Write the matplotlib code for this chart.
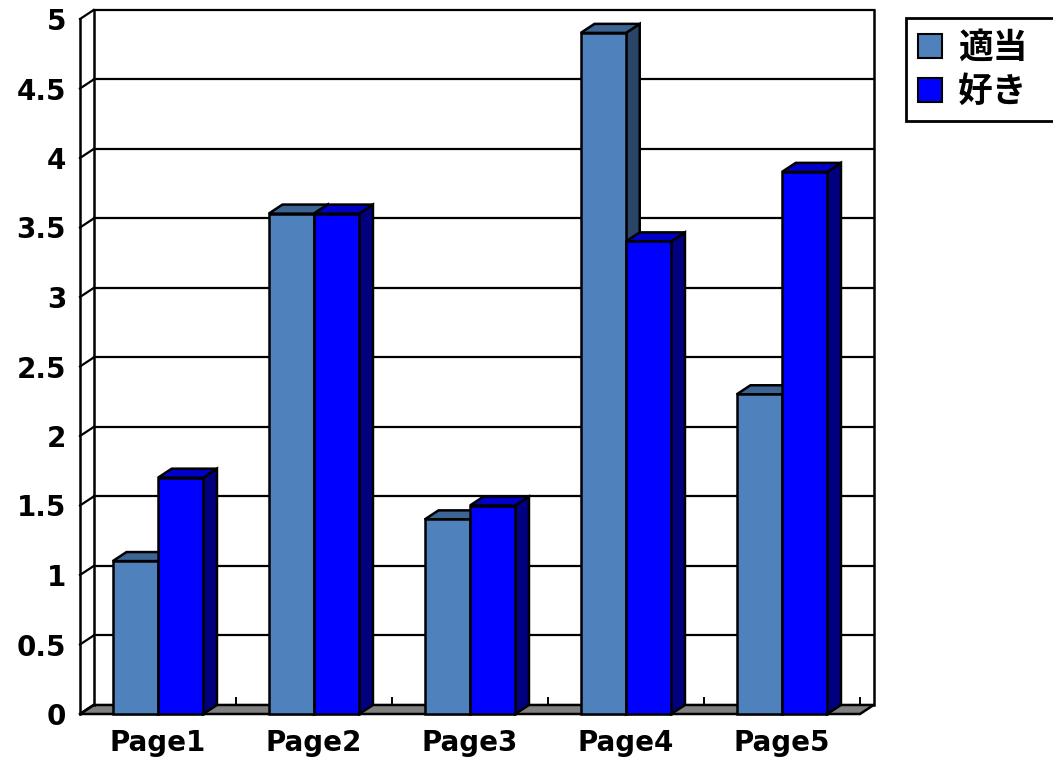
import matplotlib.pyplot as plt
from matplotlib.patches import Polygon, Patch
import numpy as np

plt.rcParams['font.family'] = ['DejaVu Sans', 'Noto Sans CJK JP']

# データ
pages = ["Page1", "Page2", "Page3", "Page4", "Page5"]
tekitou = [1.1, 3.6, 1.4, 4.9, 2.3]
suki = [1.7, 3.6, 1.5, 3.4, 3.9]
series_names = ["適当", "好き"]
yticks = [0, 0.5, 1, 1.5, 2, 2.5, 3, 3.5, 4, 4.5, 5]
ytick_labels = ["0", "0.5", "1", "1.5", "2", "2.5", "3", "3.5", "4", "4.5", "5"]

# 色 (正面, 側面, 上面)
col1 = ("#4F81BD", "#2A4565", "#3D6594")
col2 = ("#0000FF", "#000080", "#0000C8")

DX = 0.088   # 奥行き (x方向)
DY = 0.065   # 奥行き (y方向)
W = 0.29
LW = 1.8

fig = plt.figure(figsize=(10.53, 7.59), dpi=100)
ax = fig.add_axes([80 / 1053, 45 / 759, 780 / 1053, 695 / 759])
ax.set_xlim(0, 5)
ax.set_ylim(0, 5)
for s in ax.spines.values():
    s.set_visible(False)


def poly(pts, fc, z):
    ax.add_patch(Polygon(pts, closed=True, facecolor=fc, edgecolor="black",
                         linewidth=LW, joinstyle="miter", clip_on=False, zorder=z))


def line(xs, ys, z=1, lw=LW):
    ax.plot(xs, ys, color="black", linewidth=lw, clip_on=False, zorder=z,
            solid_capstyle="projecting")


# 床
poly([(0, 0), (5, 0), (5 + DX, DY), (DX, DY)], "#808080", 1)

# 背面の目盛線
for v in yticks[1:]:
    line([DX, 5 + DX], [v + DY, v + DY], z=1, lw=1.6)
    line([0, DX], [v, v + DY], z=1, lw=1.6)
line([0, DX], [0, DY], z=2)
line([0, 0], [0, 5], z=2)
line([DX, DX], [DY, 5 + DY], z=1)
line([5 + DX, 5 + DX], [DY, 5 + DY], z=1)

# 床の区切り目盛
for i in range(1, 6):
    line([i, i], [DY, DY + 0.05], z=1.5, lw=1.4)


def bar3d(x0, h, cols, z):
    x1 = x0 + W
    poly([(x1, 0), (x1 + DX, DY), (x1 + DX, h + DY), (x1, h)], cols[1], z)
    poly([(x0, h), (x0 + DX, h + DY), (x1 + DX, h + DY), (x1, h)], cols[2], z)
    poly([(x0, 0), (x1, 0), (x1, h), (x0, h)], cols[0], z + 0.1)


x = np.arange(len(pages)) + 0.5
for i in range(len(pages)):
    bar3d(x[i] - W, tekitou[i], col1, 3)
    bar3d(x[i], suki[i], col2, 4)

ax.set_yticks(yticks)
ax.set_yticklabels(ytick_labels, fontsize=20, fontweight="bold")
ax.set_xticks(x)
ax.set_xticklabels(pages, fontsize=20, fontweight="bold")
ax.tick_params(axis="y", length=0, pad=10)
ax.tick_params(axis="x", length=0, pad=11)

handles = [Patch(facecolor=col1[0], edgecolor="black", linewidth=1.5),
           Patch(facecolor=col2[0], edgecolor="black", linewidth=1.5)]
leg = fig.legend(handles, series_names, loc="upper left", mode="expand",
                 bbox_to_anchor=(906 / 1053, 1 - 120 / 759, 160 / 1053, 102 / 759),
                 prop={"family": ["Noto Sans CJK JP"], "size": 25, "weight": "bold"},
                 frameon=True, fancybox=False, edgecolor="black", framealpha=1,
                 handlelength=0.7, handleheight=0.7, handletextpad=0.45,
                 borderpad=0.35, labelspacing=0.25, borderaxespad=0)
leg.get_frame().set_linewidth(2)

fig.savefig("out.png", dpi=100, facecolor="white")
